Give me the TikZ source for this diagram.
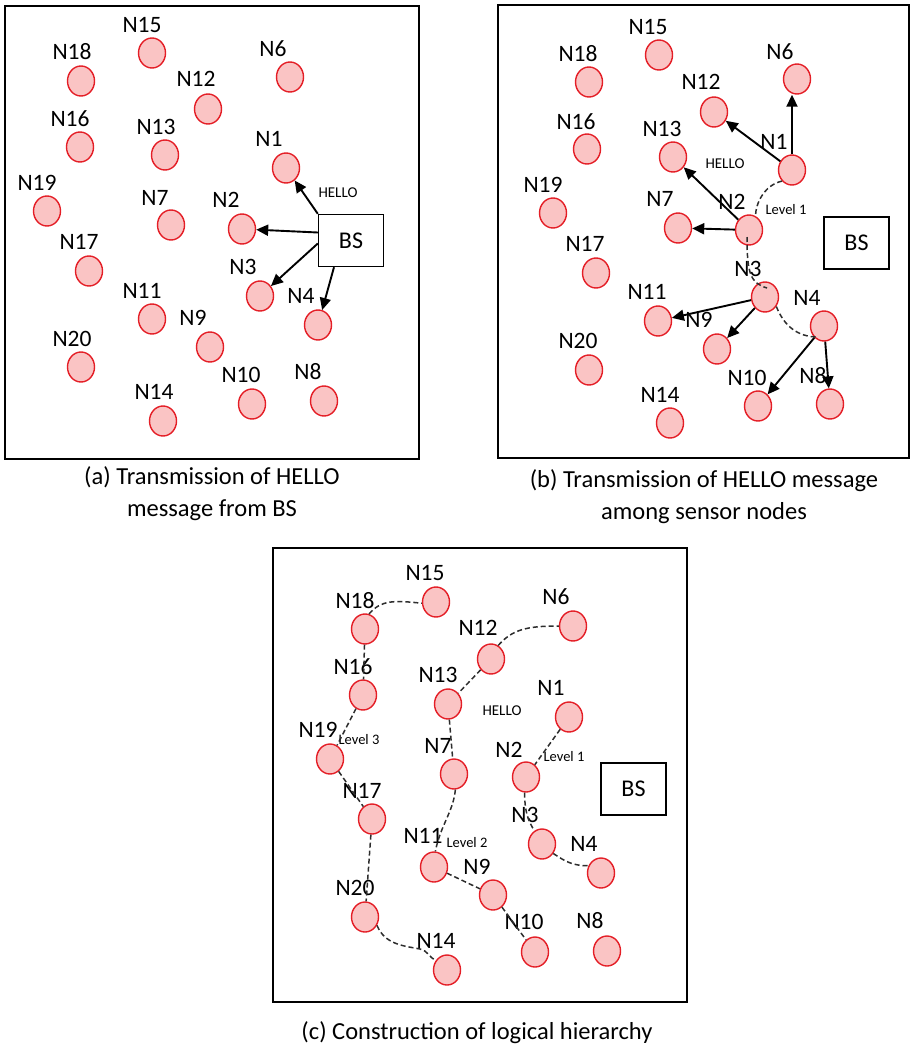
\documentclass[tikz,border=0pt]{standalone}
\usepackage{fontspec}
\setmainfont{Carlito}
\usetikzlibrary{arrows.meta,shapes.geometric,calc}
\definecolor{nodefill}{RGB}{250,196,196}
\definecolor{nodeedge}{RGB}{228,30,38}
\definecolor{linkgray}{RGB}{45,45,45}

\begin{document}
\begin{tikzpicture}[x=1pt,y=-1pt,
  sensor/.style={ellipse,draw=nodeedge,fill=nodefill,line width=1.4pt,
    minimum width=27pt,minimum height=30pt,inner sep=0pt},
  tag/.style={font=\fontsize{23.5}{25}\selectfont,inner sep=0pt},
  note/.style={font=\fontsize{15}{17}\selectfont,inner sep=0pt},
  levelnote/.style={font=\fontsize{14.5}{16}\selectfont,inner sep=0pt},
  station/.style={draw,line width=1.4pt,minimum width=65pt,minimum height=52pt,
    inner sep=0pt,font=\fontsize{24}{26}\selectfont},
  panel/.style={draw,line width=1.6pt},
  send/.style={line width=1.9pt,-{Triangle[length=12pt,width=11pt]}},
  link/.style={draw=linkgray,line width=1.5pt,dash pattern=on 5pt off 3pt},
  caption/.style={font=\fontsize{24.5}{32}\selectfont,inner sep=0pt,align=center}]

\useasboundingbox (0,0) rectangle (910,1049);

% ---------- panel (a): BS broadcasts HELLO ----------
\draw[panel] (5,6) rectangle (419,459);
\foreach \n/\x/\y/\lx/\ly in {
  1/286/168/269/139, 2/242/229/226/200, 3/260/296/243/267, 4/318/325/301/296,
  6/290/77/273/49, 7/171/225/155/198, 8/324/401/308/372, 9/210/347/193/318,
  10/252/404/241/375, 11/152/319/142/291, 12/208/109/196/79, 13/165/155/156/127,
  14/163/421/154/392, 15/152/53/142/25, 16/80/147/70/119, 17/89/271/79/242,
  18/81/81/72/52, 19/47/211/37/183, 20/81/367/72/339}{
  \node[tag] (aT\n) at (\lx,\ly) {N\n};
  \node[sensor] (aN\n) at (\x,\y) {};
}
\node[station] (aBS) at (351,240.5) {BS};
\node[note] (aHello) at (338,193) {HELLO};
\draw[send] (aBS.north west) -- (aN1);
\draw[send] ($(aBS.west)+(0,-8)$) -- (aN2);
\draw[send] ($(aBS.west)+(0,3)$) -- (aN3);
\draw[send] ($(aBS.south)+(-17,0)$) -- (aN4);
\node[caption] (capA) at (212,494) {(a) Transmission of HELLO\\message from BS};

% ---------- panel (b): HELLO relayed among sensor nodes ----------
\draw[panel] (498,5) rectangle (909,458);
\foreach \n/\x/\y/\lx/\ly in {
  1/792/170/774/142, 2/749/230/732/202, 3/765/297/748/269, 4/824/326/807/298,
  6/797/79/780/52, 7/678/228/660/199, 8/830/404/813/376, 9/717/349/699/320,
  10/758/406/747/378, 11/658/321/647/292, 12/714/112/701/82, 13/673/157/662/129,
  14/670/423/660/395, 15/659/55/648/27, 16/587/149/576/122, 17/596/273/585/244,
  18/589/82/578/54, 19/553/213/543/185, 20/589/370/578/341}{
  \node[tag] (bT\n) at (\lx,\ly) {N\n};
  \node[sensor] (bN\n) at (\x,\y) {};
}
\node[station] (bBS) at (856.5,243) {BS};
\node[note] (bHello) at (725,164) {HELLO};
\node[levelnote] (bLevel) at (786,210) {Level 1};
\draw[send] (bN1.north) -- (bN1.north |- bN6.south);
\draw[send] (bN1) -- (bN12);
\draw[send] (bN2) -- (bN13);
\draw[send] (bN2) -- (bN7);
\draw[send] (bN3) -- (bN11);
\draw[send] (bN3) -- (bN9);
\draw[send] (bN4) -- (bN10);
\draw[send] (bN4) -- (bN8);
\draw[link] (bN1.south west) .. controls +(-18,4) and +(0,-12) .. (bN2.65);
\draw[link] ($(bN2)+(-2,7)$) .. controls ($(bN2)+(-2,45)$) and ($(bN3)+(-14,-14)$) .. ($(bN3)+(2,-9)$);
\draw[link] (bN3.-40) .. controls +(8,20) and +(-20,0) .. ($(bN4)+(-6,11)$);
\node[caption] (capB) at (704,497) {(b) Transmission of HELLO message\\among sensor nodes};

% ---------- panel (c): logical hierarchy ----------
\draw[panel] (273,548) rectangle (687,1002);
\foreach \n/\x/\y/\lx/\ly in {
  1/569/717/551/688, 2/526/777/509/750, 3/542/844/525/815, 4/601/873/584/844,
  6/573/626/556/597, 7/454/774/438/746, 8/607/951/590/921, 9/493/895/477/867,
  10/535/952/524/922, 11/434/867/423/836, 12/491/659/478/628, 13/448/704/438/675,
  14/447/970/436/941, 15/436/602/425/573, 16/363/695/353/667, 17/372/819/362/791,
  18/365/629/355/601, 19/330/759/318/730, 20/365/917/355/888}{
  \node[tag] (cT\n) at (\lx,\ly) {N\n};
  \node[sensor] (cN\n) at (\x,\y) {};
}
\node[station] (cBS) at (633.5,789) {BS};
\node[note] (cHello) at (502,711) {HELLO};
\node[levelnote] (cLevel1) at (564,757) {Level 1};
\node[levelnote] (cLevel2) at (467,843) {Level 2};
\node[levelnote] (cLevel3) at (359,740) {Level 3};
% level 3 chain
\draw[link] (cN18.75) .. controls +(12,-14) and +(-28,-3) .. (cN15.185);
\draw[link] (cN18) -- (cN16);
\draw[link] (cN16) -- (cN19);
\draw[link] (cN19) -- (cN17);
\draw[link] (cN17) -- (cN20);
\draw[link] (cN20.-35) .. controls (385,945) and (405,946) .. (420,949)
  .. controls (427,950) and (430,958) .. (cN14.140);
% level 2 chain
\draw[link] (cN12.62) .. controls +(14,-16) and +(-32,0) .. (cN6.180);
\draw[link] (cN12) -- (cN13);
\draw[link] (cN13) -- (cN7);
\draw[link] (cN7.275) .. controls +(-2,22) and +(5,-26) .. (cN11.85);
\draw[link] (cN11) -- (cN9);
\draw[link] (cN9) -- (cN10);
% level 1 chain
\draw[link] (cN1) -- (cN2);
\draw[link] (cN2.265) .. controls +(0,20) and +(-6,-10) .. (cN3.120);
\draw[link] (cN3.-40) .. controls +(12,8) and +(-16,0) .. (cN4.150);
\node[caption] (capC) at (477,1033) {(c) Construction of logical hierarchy};

\end{tikzpicture}
\end{document}
